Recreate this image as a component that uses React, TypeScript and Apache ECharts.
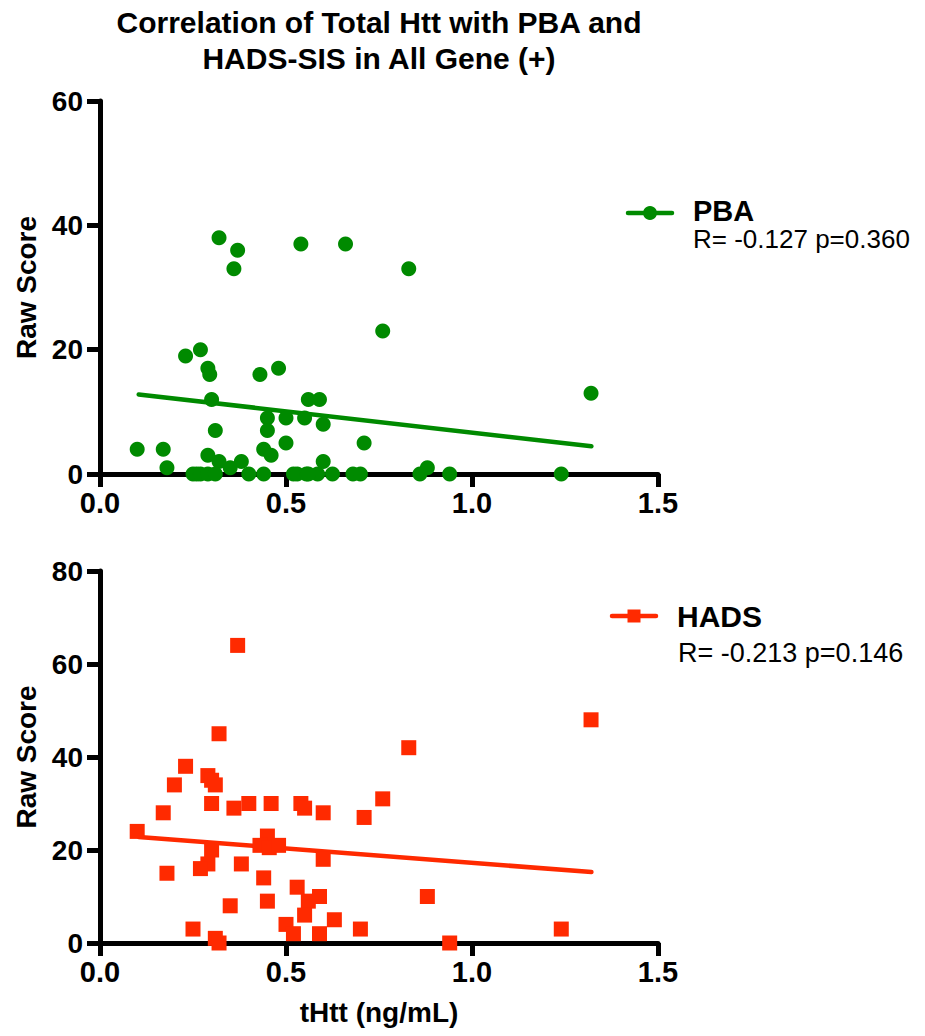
import React, { useEffect, useRef } from 'react';
import * as echarts from 'echarts';

// ---- Data ----
const pbaX = [
  0.10, 0.17, 0.18, 0.23, 0.27, 0.29, 0.295, 0.30, 0.31, 0.29,
  0.32, 0.37, 0.36, 0.43, 0.48, 0.54, 0.66, 0.76, 0.83, 0.45,
  0.45, 0.50, 0.56, 0.59, 0.55, 0.60, 0.50, 0.71, 0.44, 0.46,
  0.60, 0.32, 0.38, 0.35,
  0.25, 0.26, 0.27, 0.29, 0.31, 0.40, 0.44, 0.52, 0.53, 0.555,
  0.585, 0.625, 0.68, 0.70,
  0.86, 0.88, 0.94, 1.24, 1.32, 0.56,
];
const pbaY = [
  4, 4, 1, 19, 20, 17, 16, 12, 7, 3,
  38, 36, 33, 16, 17, 37, 37, 23, 33, 9,
  7, 9, 12, 12, 9, 8, 5, 5, 4, 3,
  2, 2, 2, 1,
  0, 0, 0, 0, 0, 0, 0, 0, 0, 0,
  0, 0, 0, 0,
  0, 1, 0, 0, 13, 0,
];

const hadsX = [
  0.37, 0.32, 0.23, 0.20, 0.29, 0.30, 0.31, 0.30, 0.17, 0.36,
  0.40, 0.46, 0.54, 0.55, 0.60, 0.76, 0.71, 0.83, 0.10, 0.30,
  0.29, 0.27, 0.18, 0.38, 0.45, 0.43, 0.455, 0.48, 0.60, 0.44,
  0.45, 0.35, 0.53, 0.56, 0.59, 0.55, 0.63, 0.25, 0.50, 0.52,
  0.59, 0.70, 0.31, 0.32, 1.32, 0.88, 0.94, 1.24,
];
const hadsY = [
  64, 45, 38, 34, 36, 35, 34, 30, 28, 29,
  30, 30, 30, 29, 28, 31, 27, 42, 24, 20,
  17, 16, 15, 17, 23, 21, 20.5, 21, 18, 14,
  9, 8, 12, 9, 10, 6, 5, 3, 4, 2,
  2, 3, 1, 0, 48, 10, 0, 3,
];

// Fitted lines (end points)
const pbaTrendX = [0.104, 1.321];
const pbaTrendY = [12.8, 4.45];
const hadsTrendX = [0.104, 1.321];
const hadsTrendY = [22.8, 15.25];

// Axes
const xTicks = [0, 0.5, 1.0, 1.5];
const topYTicks = [0, 20, 40, 60];
const bottomYTicks = [0, 20, 40, 60, 80];

const titleLines = ['Correlation of Total Htt with PBA and', 'HADS-SIS in All Gene (+)'];
const seriesNames = ['PBA', 'HADS'];
const stats = ['R= -0.127 p=0.360', 'R= -0.213 p=0.146'];

const GREEN = '#008A00';
const RED = '#FF2A00';
const FONT = '"Liberation Sans", Arial, Helvetica, sans-serif';

const zip = (xs: number[], ys: number[]) => xs.map((x, i) => [x, ys[i]]);

const axisLine = { show: true, onZero: false, lineStyle: { color: '#000', width: 5 } };
const axisTick = { show: true, inside: false, length: 13, lineStyle: { color: '#000', width: 5 } };

function makeXAxis(gridIndex: number, withName: boolean) {
  return {
    type: 'value',
    gridIndex,
    min: xTicks[0],
    max: xTicks[xTicks.length - 1],
    interval: xTicks[1] - xTicks[0],
    axisLine,
    axisTick,
    splitLine: { show: false },
    axisLabel: {
      margin: 14,
      color: '#000',
      fontFamily: FONT,
      fontWeight: 'bold',
      fontSize: 29,
      formatter: (v: number) => v.toFixed(1),
    },
    name: withName ? 'tHtt (ng/mL)' : '',
    nameLocation: 'middle',
    nameGap: 55,
    nameTextStyle: { color: '#000', fontFamily: FONT, fontWeight: 'bold', fontSize: 28 },
  };
}

function makeYAxis(gridIndex: number, ticks: number[]) {
  return {
    type: 'value',
    gridIndex,
    min: ticks[0],
    max: ticks[ticks.length - 1],
    interval: ticks[1] - ticks[0],
    axisLine,
    axisTick,
    splitLine: { show: false },
    axisLabel: {
      margin: 17,
      color: '#000',
      fontFamily: FONT,
      fontWeight: 'bold',
      fontSize: 28,
    },
    name: 'Raw Score',
    nameLocation: 'middle',
    nameGap: 60,
    nameTextStyle: { color: '#000', fontFamily: FONT, fontWeight: 'bold', fontSize: 28 },
  };
}

function legendGraphics() {
  return [
    // PBA legend
    { type: 'line', shape: { x1: 628, y1: 213, x2: 672, y2: 213 }, style: { stroke: GREEN, lineWidth: 4.5, lineCap: 'round' } },
    { type: 'circle', shape: { cx: 650, cy: 213, r: 7 }, style: { fill: GREEN } },
    { type: 'text', x: 693, y: 211, style: { text: seriesNames[0], font: `bold 29px ${FONT}`, fill: '#000', textAlign: 'left', textVerticalAlign: 'middle' } },
    { type: 'text', x: 693, y: 239, style: { text: stats[0], font: `26px ${FONT}`, fill: '#000', textAlign: 'left', textVerticalAlign: 'middle' } },
    // HADS legend
    { type: 'line', shape: { x1: 612, y1: 616, x2: 656, y2: 616 }, style: { stroke: RED, lineWidth: 4.5, lineCap: 'round' } },
    { type: 'rect', shape: { x: 627.5, y: 609.5, width: 13, height: 13 }, style: { fill: RED } },
    { type: 'text', x: 677, y: 616, style: { text: seriesNames[1], font: `bold 30px ${FONT}`, fill: '#000', textAlign: 'left', textVerticalAlign: 'middle' } },
    { type: 'text', x: 678, y: 653, style: { text: stats[1], font: `27px ${FONT}`, fill: '#000', textAlign: 'left', textVerticalAlign: 'middle' } },
  ];
}

const option = {
  animation: false,
  backgroundColor: '#fff',
  title: {
    text: titleLines.join('\n'),
    left: 379,
    top: 4,
    padding: 0,
    textAlign: 'center',
    textStyle: { color: '#000', fontFamily: FONT, fontWeight: 'bold', fontSize: 30, lineHeight: 36 },
  },
  grid: [
    { left: 100, top: 101, width: 558, height: 373 },
    { left: 100, top: 571, width: 558, height: 372 },
  ],
  xAxis: [makeXAxis(0, false), makeXAxis(1, true)],
  yAxis: [makeYAxis(0, topYTicks), makeYAxis(1, bottomYTicks)],
  graphic: legendGraphics(),
  series: [
    {
      name: seriesNames[0] + ' fit',
      type: 'line',
      xAxisIndex: 0,
      yAxisIndex: 0,
      data: zip(pbaTrendX, pbaTrendY),
      showSymbol: false,
      lineStyle: { color: GREEN, width: 4.5, cap: 'round' },
      z: 2,
    },
    {
      name: seriesNames[0],
      type: 'scatter',
      xAxisIndex: 0,
      yAxisIndex: 0,
      data: zip(pbaX, pbaY),
      symbol: 'circle',
      symbolSize: 15,
      clip: false,
      itemStyle: { color: GREEN, opacity: 1 },
      z: 3,
    },
    {
      name: seriesNames[1] + ' fit',
      type: 'line',
      xAxisIndex: 1,
      yAxisIndex: 1,
      data: zip(hadsTrendX, hadsTrendY),
      showSymbol: false,
      lineStyle: { color: RED, width: 4.5, cap: 'round' },
      z: 2,
    },
    {
      name: seriesNames[1],
      type: 'scatter',
      xAxisIndex: 1,
      yAxisIndex: 1,
      data: zip(hadsX, hadsY),
      symbol: 'rect',
      symbolSize: 15,
      clip: false,
      itemStyle: { color: RED, opacity: 1 },
      z: 3,
    },
  ],
};

export default function App() {
  const ref = useRef<HTMLDivElement>(null);
  useEffect(() => {
    document.body.style.margin = '0';
    const chart = echarts.init(ref.current as HTMLDivElement, null, { renderer: 'svg' });
    chart.setOption(option as any);
    return () => chart.dispose();
  }, []);
  return <div ref={ref} style={{ width: 925, height: 1036 }} />;
}
